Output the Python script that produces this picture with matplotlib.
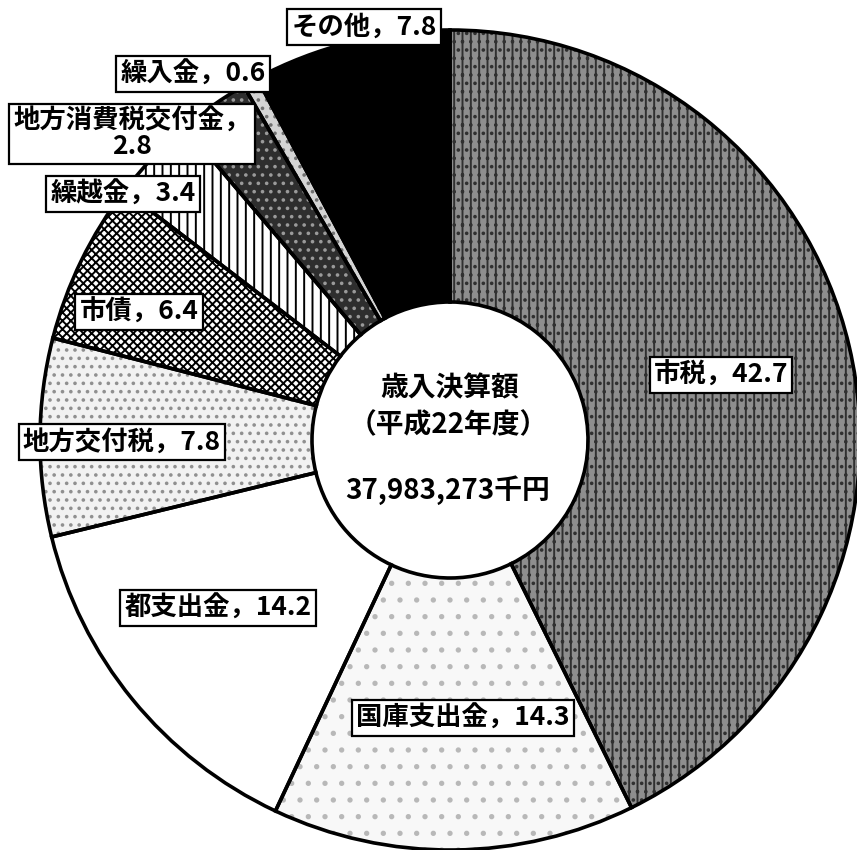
import matplotlib
matplotlib.use("Agg")
import matplotlib.pyplot as plt

plt.rcParams['font.family'] = ['Noto Sans CJK JP', 'DejaVu Sans']
plt.rcParams['hatch.linewidth'] = 1.4

# ---- data ----
categories = ["市税", "国庫支出金", "都支出金", "地方交付税", "市債",
              "繰越金", "地方消費税交付金", "繰入金", "その他"]
values = [42.7, 14.3, 14.2, 7.8, 6.4, 3.4, 2.8, 0.6, 7.8]
center_title = ["歳入決算額", "（平成22年度）", "37,983,273千円"]

# ---- styles ----
faces = ['#8e8e8e', '#f8f8f8', '#ffffff', '#f2f2f2', '#ffffff',
         '#ffffff', '#2e2e2e', '#d4d4d4', '#000000']
hatch_cols = ['#303030', '#b8b8b8', '#ffffff', '#909090', '#000000',
              '#000000', '#9a9a9a', '#707070', '#000000']
hatches = ['||..', '.', '', '..', 'xxxx', '||', '..', '..', '']

# label box centres in image pixels (x from left, y from top)
label_pos = [(721, 375), (463, 718), (218, 608), (122, 442), (139, 312),
             (123, 194), (132, 134), (193, 74), (364, 27)]

W, H = 857, 850
fig = plt.figure(figsize=(W / 100, H / 100), dpi=100)
ax = fig.add_axes([0, 0, 1, 1])

cx, cy = 450, H - 440
R = 410
r_in = 138

wedges, _ = ax.pie(values, startangle=90, counterclock=False, radius=R,
                   center=(cx, cy), colors=faces,
                   wedgeprops=dict(width=R - r_in, linewidth=0))
for w, h, hc in zip(wedges, hatches, hatch_cols):
    w.set_hatch(h)
    w.set_edgecolor(hc)
    w.set_linewidth(0)

ax.pie(values, startangle=90, counterclock=False, radius=R,
       center=(cx, cy),
       wedgeprops=dict(width=R - r_in, linewidth=2.6, edgecolor='black',
                       facecolor='none', fill=False))

ax.set_xlim(0, W)
ax.set_ylim(0, H)
ax.set_aspect('auto')
ax.axis('off')

# labels
for cat, v, (px, py) in zip(categories, values, label_pos):
    if cat == "地方消費税交付金":
        txt = f"{cat}，\n{v}"
    else:
        txt = f"{cat}，{v}"
    ax.text(px, H - py, txt, ha='center', va='center', fontsize=19,
            fontweight='bold', multialignment='center', linespacing=0.9,
            bbox=dict(boxstyle='square,pad=0.16', facecolor='white',
                      edgecolor='black', linewidth=1.6), zorder=5)

# centre text
ax.text(cx, H - 388, center_title[0], ha='center', va='center', fontsize=20,
        fontweight='bold')
ax.text(cx - 2, H - 425, center_title[1], ha='center', va='center',
        fontsize=20, fontweight='bold')
ax.text(cx - 2, H - 490, center_title[2], ha='center', va='center',
        fontsize=20, fontweight='bold')

fig.savefig("out.png", dpi=100, facecolor='white')
